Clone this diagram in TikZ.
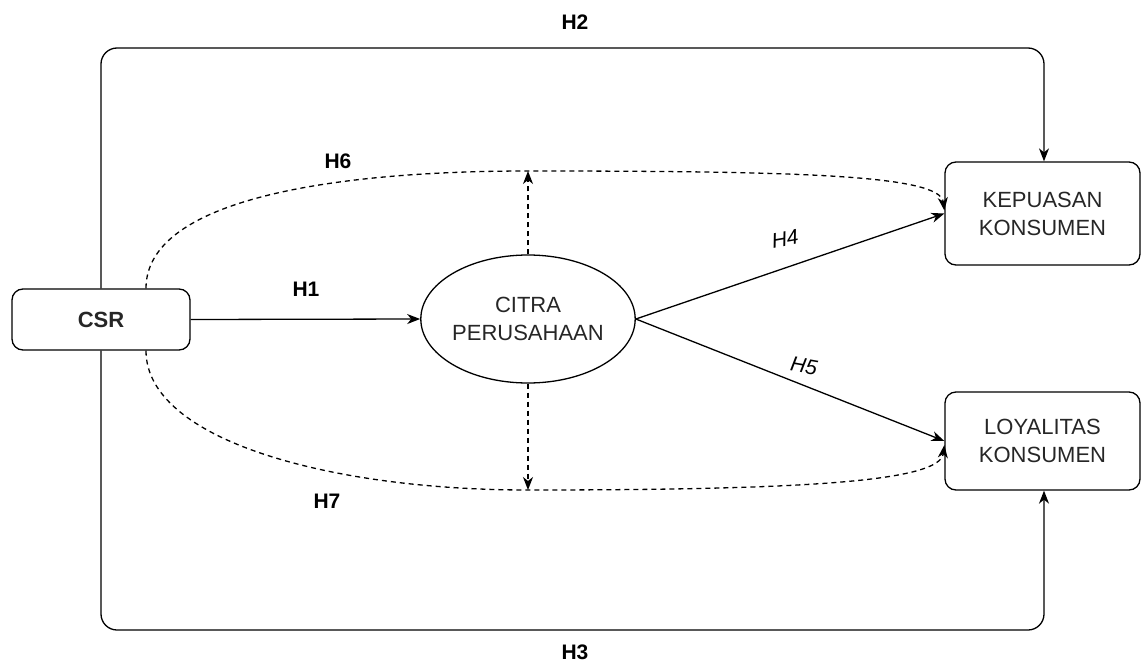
\documentclass[tikz,border=0pt]{standalone}
\usepackage{fontspec}
\setmainfont{Liberation Sans}
\usetikzlibrary{arrows.meta,shapes.geometric,calc}
\begin{document}
\begin{tikzpicture}[x=1pt,y=-1pt,
  every node/.style={font=\fontsize{22}{28}\selectfont, text=black!85},
  boxnode/.style={draw, line width=1.3pt, rounded corners=11pt, align=center, inner sep=0pt},
  ellnode/.style={draw, ellipse, line width=1.3pt, align=center, inner sep=0pt, minimum width=202pt, minimum height=128pt},
  lbl/.style={font=\fontsize{21}{24}\selectfont\bfseries, text=black},
  slbl/.style={font=\fontsize{21}{24}\selectfont\itshape, text=black},
  arr/.style={line width=1.3pt, -{Stealth[length=13pt,width=10pt,inset=4pt]}},
  darr/.style={line width=1.3pt, dash pattern=on 5pt off 4pt, -{Stealth[length=13pt,width=10pt,inset=4pt]}}
]
\useasboundingbox (0,0) rectangle (1141,664);

\node[boxnode, minimum width=178pt, minimum height=61pt] (csr) at (101,319.5) {\bfseries CSR};
\node[ellnode] (citra) at (528,319) {CITRA\\PERUSAHAAN};
\node[boxnode, minimum width=195pt, minimum height=103pt] (kep) at (1042.5,213.5) {KEPUASAN\\KONSUMEN};
\node[boxnode, minimum width=195pt, minimum height=98pt] (loy) at (1042.5,441) {LOYALITAS\\KONSUMEN};

\coordinate (tr) at (1044,48);
\coordinate (br) at (1044,630);
\coordinate (hsix) at (528,171);
\coordinate (hseven) at (528,490);
\coordinate (csrtop) at ($(csr.north)+(45,0)$);
\coordinate (csrbot) at ($(csr.south)+(45,0)$);

% H1, H4, H5
\draw[arr] (csr.east) -- (citra.west);
\draw[arr] (citra.east) -- (kep.west);
\draw[arr] (citra.east) -- (loy.west);

% H2, H3
\draw[arr, rounded corners=16pt] (csr.north) |- (tr) -- (tr |- kep.north);
\draw[arr, rounded corners=16pt] (csr.south) |- (br) -- (br |- loy.south);

% H6, H7
\draw[darr] (csrtop) .. controls (146,200) and (330,171) .. (hsix)
  .. controls (800,171) and (940,175) .. ([yshift=3pt]kep.west);
\draw[darr] (csrbot) .. controls (146,440) and (330,490) .. (hseven)
  .. controls (800,490) and (940,482) .. ([yshift=-4pt]loy.west);
\draw[darr] (citra.north) -- (hsix);
\draw[darr] (citra.south) -- (hseven);

% labels
\node[lbl] (h1) at (306,289) {H1};
\node[lbl] (h2) at (575,22) {H2};
\node[lbl] (h3) at (575,652) {H3};
\node[slbl, rotate=10] (h4) at (785,239) {H4};
\node[slbl, rotate=-10] (h5) at (804,366) {H5};
\node[lbl] (h6) at (338,161) {H6};
\node[lbl] (h7) at (327,501) {H7};
\end{tikzpicture}
\end{document}
